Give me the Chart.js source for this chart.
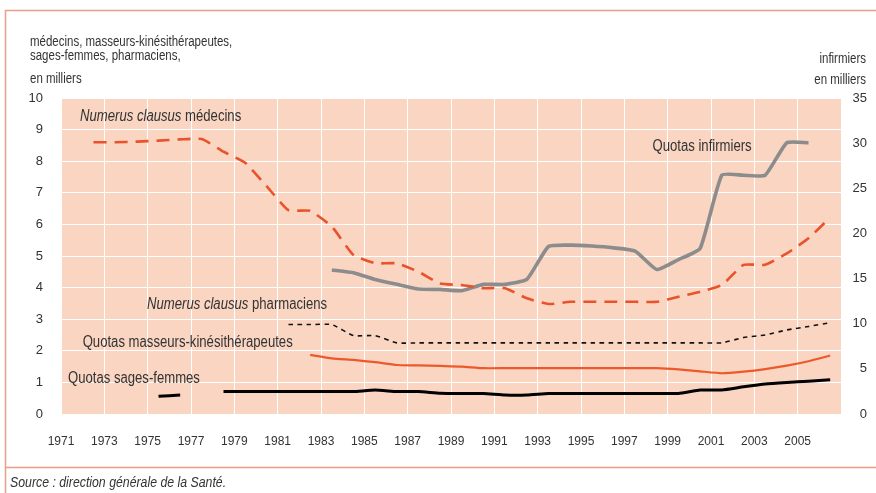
<!DOCTYPE html>
<html>
<head>
<meta charset="utf-8">
<script src="https://cdn.jsdelivr.net/npm/chart.js@4.4.1/dist/chart.umd.min.js"></script>
<style>
  html, body { margin: 0; padding: 0; background: #fff; }
</style>
</head>
<body>
<canvas id="chart" width="876" height="493"></canvas>
<script>
// data (thousands), one value per year
const years = [1971, 1972, 1973, 1974, 1975, 1976, 1977, 1978, 1979, 1980,
               1981, 1982, 1983, 1984, 1985, 1986, 1987, 1988, 1989, 1990,
               1991, 1992, 1993, 1994, 1995, 1996, 1997, 1998, 1999, 2000,
               2001, 2002, 2003, 2004, 2005, 2006];

const medecins = [null, 8.6, 8.6, 8.62, 8.65, 8.69, 8.7, 8.3, 7.95, 7.2,
                  6.45, 6.43, 5.93, 5.03, 4.77, 4.77, 4.5, 4.13, 4.08, 3.98,
                  3.98, 3.66, 3.48, 3.55, 3.55, 3.55, 3.55, 3.55, 3.71, 3.87,
                  4.08, 4.72, 4.72, 5.08, 5.56, 6.22];

const pharmaciens = [null, null, null, null, null, null, null, null, null, null,
                     2.83, 2.83, 2.83, 2.48, 2.48, 2.25, 2.25, 2.25, 2.25, 2.25,
                     2.25, 2.25, 2.25, 2.25, 2.25, 2.25, 2.25, 2.25, 2.25, 2.25,
                     2.25, 2.42, 2.5, 2.66, 2.77, 2.89];

const masseurs = [null, null, null, null, null, null, null, null, null, null,
                  null, 1.87, 1.76, 1.71, 1.64, 1.55, 1.54, 1.52, 1.5, 1.45,
                  1.45, 1.45, 1.45, 1.45, 1.45, 1.45, 1.45, 1.45, 1.41, 1.35,
                  1.29, 1.34, 1.42, 1.53, 1.67, 1.85];

const sagesFemmes = [null, null, null, null, 0.56, 0.6, null, 0.71, 0.71, 0.71,
                     0.71, 0.71, 0.71, 0.71, 0.76, 0.71, 0.71, 0.66, 0.65, 0.65,
                     0.6, 0.6, 0.65, 0.65, 0.65, 0.65, 0.65, 0.65, 0.65, 0.76,
                     0.76, 0.86, 0.95, 1.0, 1.04, 1.08];

// right axis (infirmiers)
const infirmiers = [null, null, null, null, null, null, null, null, null, null,
                    null, null, 15.95, 15.65, 14.9, 14.36, 13.84, 13.8, 13.66, 14.36,
                    14.36, 14.9, 18.55, 18.7, 18.6, 18.4, 18.05, 16.0, 17.1, 18.35,
                    26.45, 26.45, 26.45, 30.05, 30.05, null];

const tickYears = [1971, 1973, 1975, 1977, 1979, 1981, 1983, 1985, 1987, 1989,
                   1991, 1993, 1995, 1997, 1999, 2001, 2003, 2005, 2007];

const FONT = "'Liberation Sans', Arial, sans-serif";
const TXT = '#333333';
const NARROW = 0.82; // the original type is condensed

// annual values are drawn in the middle of their year
function points(arr) {
    return years.map((yr, i) => ({ x: yr + 0.5, y: arr[i] }));
}

// condensed text drawn on the canvas
function narrowText(ctx, text, x, y, font, align) {
    ctx.save();
    ctx.font = font;
    let w = ctx.measureText(text).width * NARROW;
    let left = align === 'right' ? x - w : x;
    ctx.translate(left, y);
    ctx.scale(NARROW, 1);
    ctx.textAlign = 'left';
    ctx.fillText(text, 0, 0);
    ctx.restore();
    return w;
}

// series captions, in data units
const captions = [
    { x: 1971.88, y: 9.4, parts: [['Numerus clausus', true], [' médecins', false]] },
    { x: 1998.3, y: 8.45, parts: [['Quotas infirmiers', false]] },
    { x: 1974.97, y: 3.45, parts: [['Numerus clausus', true], [' pharmaciens', false]] },
    { x: 1972.0, y: 2.25, parts: [['Quotas masseurs-kinésithérapeutes', false]] },
    { x: 1971.32, y: 1.12, parts: [['Quotas sages-femmes', false]] }
];

const decor = {
    id: 'decor',
    beforeDraw(chart) {
        const { ctx, chartArea: a } = chart;
        ctx.save();
        ctx.fillStyle = '#ffffff';
        ctx.fillRect(0, 0, chart.width, chart.height);
        ctx.fillStyle = '#f9d5c2';
        ctx.fillRect(a.left, a.top, a.right - a.left, a.bottom - a.top);
        ctx.restore();
    },
    afterDraw(chart) {
        const { ctx } = chart;
        ctx.save();
        // frame
        ctx.strokeStyle = '#ec9c88';
        ctx.lineWidth = 1.5;
        ctx.beginPath();
        ctx.moveTo(5.5, 493);
        ctx.lineTo(5.5, 10.5);
        ctx.lineTo(876, 10.5);
        ctx.moveTo(5.5, 467.5);
        ctx.lineTo(876, 467.5);
        ctx.stroke();

        // axis titles
        ctx.fillStyle = TXT;
        ctx.textBaseline = 'middle';
        const f14 = '14px ' + FONT;
        narrowText(ctx, 'médecins, masseurs-kinésithérapeutes,', 30, 42, f14);
        narrowText(ctx, 'sages-femmes, pharmaciens,', 30, 56, f14);
        narrowText(ctx, 'en milliers', 30, 79, f14);
        narrowText(ctx, 'infirmiers', 866, 59, f14, 'right');
        narrowText(ctx, 'en milliers', 866, 80, f14, 'right');

        // source
        narrowText(ctx, 'Source : direction générale de la Santé.', 10, 483, 'italic 15px ' + FONT);

        // captions
        const xs = chart.scales.x, ys = chart.scales.y;
        captions.forEach(c => {
            let px = xs.getPixelForValue(c.x);
            const py = ys.getPixelForValue(c.y);
            c.parts.forEach(([t, it]) => {
                px += narrowText(ctx, t, px, py, (it ? 'italic ' : '') + '16px ' + FONT);
            });
        });
        ctx.restore();
    }
};

new Chart(document.getElementById('chart'), {
    type: 'line',
    data: {
        datasets: [
            {
                label: 'Numerus clausus médecins',
                data: points(medecins),
                borderColor: '#e9532b',
                borderWidth: 2.6,
                borderDash: [13, 8],
                yAxisID: 'y'
            },
            {
                label: 'Quotas infirmiers',
                data: points(infirmiers),
                borderColor: '#8c8c8c',
                borderWidth: 3.6,
                yAxisID: 'y2'
            },
            {
                label: 'Numerus clausus pharmaciens',
                data: points(pharmaciens),
                borderColor: '#111111',
                borderWidth: 1.6,
                borderDash: [4.5, 4.5],
                yAxisID: 'y'
            },
            {
                label: 'Quotas masseurs-kinésithérapeutes',
                data: points(masseurs),
                borderColor: '#ec5a2c',
                borderWidth: 2.2,
                yAxisID: 'y'
            },
            {
                label: 'Quotas sages-femmes',
                data: points(sagesFemmes),
                borderColor: '#000000',
                borderWidth: 3,
                yAxisID: 'y'
            }
        ]
    },
    options: {
        responsive: false,
        animation: false,
        spanGaps: false,
        elements: {
            point: { radius: 0 },
            line: { tension: 0.15, borderCapStyle: 'butt' }
        },
        layout: { padding: { top: 98, right: 9, bottom: 0, left: 0 } },
        plugins: {
            legend: { display: false },
            tooltip: { enabled: false }
        },
        scales: {
            x: {
                type: 'linear',
                min: 1971,
                max: 2007,
                afterBuildTicks: s => { s.ticks = tickYears.map(v => ({ value: v })); },
                afterFit: s => { s.height = 79; },
                ticks: {
                    callback: v => (v <= 2005 ? String(v) : ''),
                    autoSkip: false,
                    maxRotation: 0,
                    padding: 20,
                    color: TXT,
                    font: { family: FONT, size: 12 }
                },
                grid: { color: '#ffffff', lineWidth: 1, drawTicks: false },
                border: { display: false }
            },
            y: {
                position: 'left',
                min: 0,
                max: 10,
                afterFit: s => { s.width = 61; },
                ticks: {
                    stepSize: 1,
                    padding: 18,
                    color: TXT,
                    font: { family: FONT, size: 13 }
                },
                grid: { color: '#ffffff', lineWidth: 1, drawTicks: false },
                border: { display: false }
            },
            y2: {
                position: 'right',
                min: 0,
                max: 35,
                afterFit: s => { s.width = 26; },
                ticks: {
                    stepSize: 5,
                    crossAlign: 'far',
                    color: TXT,
                    font: { family: FONT, size: 13 }
                },
                grid: { display: false, drawTicks: false },
                border: { display: false }
            }
        }
    },
    plugins: [decor]
});
</script>
</body>
</html>
